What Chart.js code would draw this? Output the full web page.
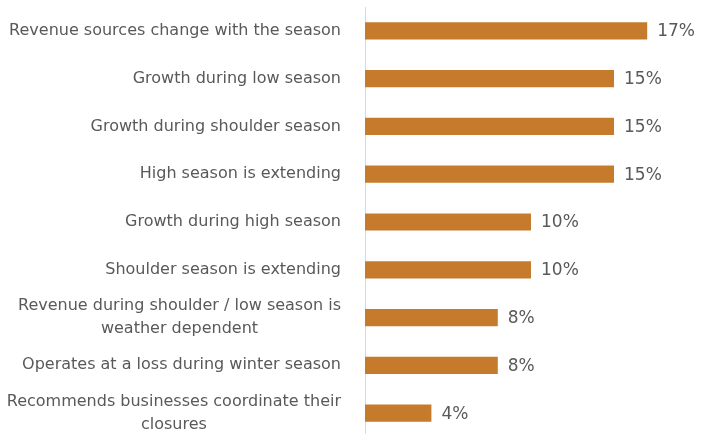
<!DOCTYPE html>
<html>
<head>
<meta charset="utf-8">
<script src="https://cdn.jsdelivr.net/npm/chart.js@4.4.1/dist/chart.umd.min.js"></script>
<style>
  html, body { margin: 0; padding: 0; background: #fff; overflow: hidden; }
  canvas { display: block; }
</style>
</head>
<body>
<canvas id="seasonChart" width="706" height="437"></canvas>
<script>
// categories (multi-line ones as arrays) and their shares in percent
const categories = [
  'Revenue sources change with the season',
  'Growth during low season',
  'Growth during shoulder season',
  'High season is extending',
  'Growth during high season',
  'Shoulder season is extending',
  ['Revenue during shoulder / low season is', 'weather dependent'],
  'Operates at a loss during winter season',
  ['Recommends businesses coordinate their', 'closures']
];
const shares = [17, 15, 15, 15, 10, 10, 8, 8, 4];

const textColor = '#595959';
const barColor = '#C57B2B';
const fontFamily = '"DejaVu Sans"';

// category names: right edge of the block at the axis minus a gap,
// wrapped lines centred on each other
const categoryLabels = {
  id: 'categoryLabels',
  afterDraw(chart) {
    const ctx = chart.ctx;
    const yScale = chart.scales.y;
    const right = yScale.right - 24;
    const lineH = 23;
    ctx.save();
    ctx.font = '16px ' + fontFamily;
    ctx.fillStyle = textColor;
    ctx.textAlign = 'center';
    ctx.textBaseline = 'middle';
    categories.forEach((label, i) => {
      const lines = Array.isArray(label) ? label : [label];
      const w = Math.max(...lines.map(l => ctx.measureText(l).width));
      const cx = right - w / 2;
      const y0 = yScale.getPixelForValue(i) - (lines.length - 1) * lineH / 2;
      lines.forEach((l, k) => ctx.fillText(l, cx, y0 + k * lineH));
    });
    ctx.restore();
  }
};

// write "NN%" just past the end of each bar
const valueLabels = {
  id: 'valueLabels',
  afterDatasetsDraw(chart) {
    const ctx = chart.ctx;
    const meta = chart.getDatasetMeta(0);
    ctx.save();
    ctx.font = '17px ' + fontFamily;
    ctx.fillStyle = textColor;
    ctx.textAlign = 'left';
    ctx.textBaseline = 'middle';
    meta.data.forEach((bar, i) => {
      ctx.fillText(shares[i] + '%', bar.x + 10, bar.y + 1);
    });
    ctx.restore();
  }
};

new Chart(document.getElementById('seasonChart'), {
  type: 'bar',
  data: {
    labels: categories,
    datasets: [{
      data: shares,
      backgroundColor: barColor,
      borderWidth: 0,
      categoryPercentage: 1,
      barPercentage: 0.36
    }]
  },
  options: {
    indexAxis: 'y',
    responsive: false,
    animation: false,
    layout: { padding: { top: 7, right: 9, bottom: 0, left: 0 } },
    plugins: {
      legend: { display: false },
      tooltip: { enabled: false }
    },
    scales: {
      x: {
        display: false,
        min: 0,
        max: 20
      },
      y: {
        grid: { display: false, drawTicks: false },
        border: { display: true, color: '#d9d9d9', width: 1 },
        ticks: { display: false },
        afterFit(scale) { scale.width = 365; }
      }
    }
  },
  plugins: [valueLabels, categoryLabels]
});
</script>
</body>
</html>
